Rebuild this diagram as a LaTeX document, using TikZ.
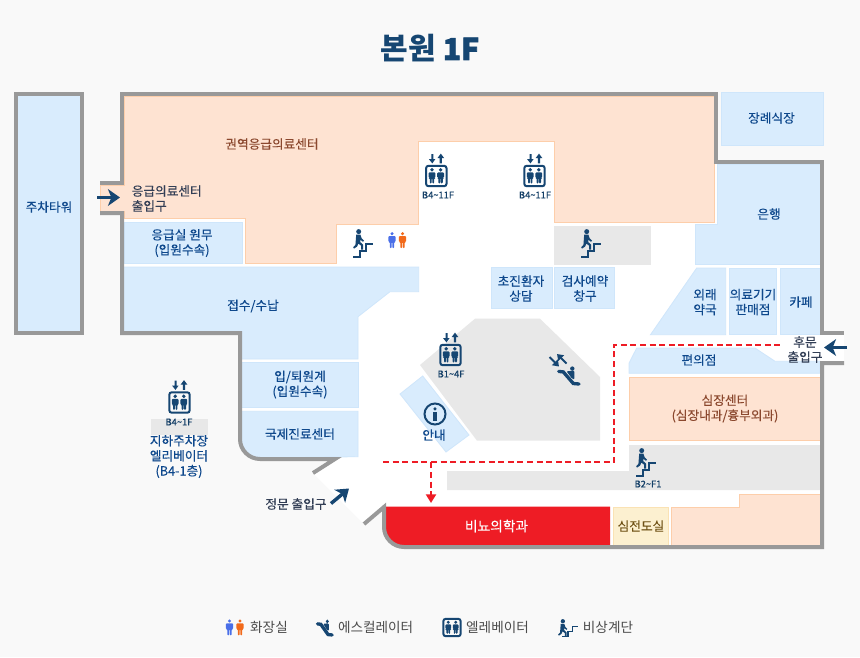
\documentclass[tikz,border=0pt]{standalone}
\usepackage{fontspec}
\setmainfont{Noto Sans CJK KR}
\newfontfamily\heavyf[FakeBold=2.2]{Noto Sans CJK KR}
\newfontfamily\medf[FakeBold=0.3]{Noto Sans CJK KR}
\newfontfamily\floorf[FakeBold=0.7]{Noto Sans CJK KR}
\usetikzlibrary{arrows.meta}
\definecolor{bgc}{RGB}{249,249,249}
\definecolor{wallc}{RGB}{153,153,153}
\definecolor{bluef}{RGB}{217,236,253}
\definecolor{blueb}{RGB}{207,230,251}
\definecolor{peachf}{RGB}{254,227,210}
\definecolor{peachb}{RGB}{253,206,170}
\definecolor{grayf}{RGB}{232,232,232}
\definecolor{navy}{RGB}{22,70,114}
\definecolor{bluetx}{RGB}{14,72,140}
\definecolor{browntx}{RGB}{139,72,46}
\definecolor{darktx}{RGB}{50,62,85}
\definecolor{legendtx}{RGB}{75,75,75}
\definecolor{redc}{RGB}{238,28,37}
\definecolor{creamf}{RGB}{252,240,208}
\definecolor{creamb}{RGB}{250,226,180}
\definecolor{creamtx}{RGB}{110,80,20}
\definecolor{wcblue}{RGB}{74,111,232}
\definecolor{wcorange}{RGB}{242,106,27}
\tikzset{
  x=0.75pt,y=-0.75pt,
  wall/.style={draw=wallc,line width=3pt,line join=miter,line cap=butt},
  tower/.style={wall,fill=bluef},
  blueroom/.style={fill=bluef,draw=blueb,line width=0.6pt},
  peachroom/.style={fill=peachf,draw=peachb,line width=0.75pt},
  grayroom/.style={fill=grayf},
  redroom/.style={fill=redc},
  creamroom/.style={fill=creamf,draw=creamb,line width=0.75pt},
  lab/.style={inner sep=0pt,align=center,font=\fontsize{9.5}{11.25}\medf\selectfont},
  bluelab/.style={lab,text=bluetx},
  brownlab/.style={lab,text=browntx},
  darklab/.style={lab,text=darktx},
  legendlab/.style={lab,text=legendtx,font=\fontsize{10.2}{12}\selectfont},
  floorlab/.style={inner sep=0pt,text=navy!90!black,font=\fontsize{7}{9}\floorf\selectfont},
  entryarrow/.style={draw=navy,line width=2.6pt,-{Stealth[length=9pt,width=12.5pt,inset=2.5pt]}},
  routeline/.style={draw=redc,line width=1.6pt,dash pattern=on 4.5pt off 2.7pt},
  routearrow/.style={routeline,-{Triangle[length=6.5pt,width=7.5pt]}},
}
\newcommand{\liftperson}[1]{%
  \fill[navy] (#1,-6.2) circle[radius=1.9];
  \fill[navy,rounded corners=0.8pt] (#1-3.4,-3.7) -- (#1+3.4,-3.7) -- (#1+3.4,2) -- (#1+2.2,2) -- (#1+2.2,7.5) -- (#1+0.3,7.5) -- (#1+0.3,2) -- (#1-0.3,2) -- (#1-0.3,7.5) -- (#1-2.2,7.5) -- (#1-2.2,2) -- (#1-3.4,2) -- cycle;
}
\newcommand{\liftcab}{%
  \draw[navy,line width=1.5pt,rounded corners=1.8pt] (-10.2,-10.2) rectangle (10.2,10.2);
  \liftperson{-4.3}\liftperson{4.3}
}
\newcommand{\liftarrows}{%
  \fill[navy] (-5,-22) rectangle (-3,-17) (-7.5,-17) -- (-0.9,-17) -- (-4,-12.6) -- cycle;
  \fill[navy] (3.4,-12.6) rectangle (5.6,-18) (1.2,-18) -- (7.8,-18) -- (4.5,-22.4) -- cycle;
}
\newcommand{\walker}{%
  \fill[navy] (5.7,2.6) circle[radius=2.5];
  \fill[navy] (3.2,5.6) -- (7.4,5.6) -- (8.6,9.2) -- (11,11.6) -- (10,12.8) -- (7.5,10.8) -- (7.2,13) -- (10,15.6) -- (10,20.6) -- (8,20.6) -- (8,16.6) -- (5.4,14.6) -- (4,17.6) -- (1,19.6) -- (0.2,18.2) -- (2.4,16) -- (2.8,11) -- cycle;
}
\newcommand{\stairicon}{%
  \walker
  \draw[navy,line width=1.5pt,line join=miter] (0,27.6) -- (7.2,27.6) -- (7.2,21.5) -- (13.3,21.5) -- (13.3,15.4) -- (20,15.4);
}
\newcommand{\esclman}{%
  \fill[navy] (15.3,1.6) circle[radius=2.2];
  \fill[navy,rounded corners=0.8pt] (9.5,4.2) -- (17.4,3.8) -- (17.4,12.5) -- (15,11.5) -- cycle;
  \draw[navy,line width=2.5pt,line cap=round,line join=miter] (1.7,4.4) -- (6.3,4.9) -- (16.3,16.5) -- (22,17);
}
\newcommand{\wcperson}[2]{%
  \fill[#1] (#2,1.7) circle[radius=1.7];
  \fill[#1,rounded corners=0.7pt] (#2-3.6,4) -- (#2+3.6,4) -- (#2+3.6,10) -- (#2+2.2,10) -- (#2+2.2,16) -- (#2+0.3,16) -- (#2+0.3,10) -- (#2-0.3,10) -- (#2-0.3,16) -- (#2-2.2,16) -- (#2-2.2,10) -- (#2-3.6,10) -- cycle;
}
\newcommand{\wcpair}{\wcperson{wcblue}{3.5}\wcperson{wcorange}{14}}
\begin{document}
\begin{tikzpicture}
\useasboundingbox (0,0) rectangle (860,657);
\fill[bgc] (0,0) rectangle (860,657);
% building floor
\fill[white] (122,94) -- (716,94) -- (716,162) -- (822,162) -- (822,333) -- (844,333) -- (844,363) -- (822,363) -- (822,547) -- (404,547) .. controls (393,547) and (384,538) .. (384,527) -- (384,507) -- (364,524) -- (313,473) -- (335,459) -- (260,459) .. controls (249,459) and (240,450) .. (240,439) -- (240,333) -- (122,333) -- (122,213) -- (100,213) -- (100,183) -- (122,183) -- cycle;
% rooms
\path[peachroom] (124,96) -- (714,96) -- (714,222.6) -- (554,222.6) -- (554,141.7) -- (418.7,141.7) -- (418.7,224.5) -- (336.5,224.5) -- (336.5,263.8) -- (245.5,263.8) -- (245.5,218.8) -- (124,218.8) -- (124,211) -- (100,211) -- (100,185) -- (124,185) -- cycle;
\path[blueroom] (124,222) rectangle (242,263.7);
\path[blueroom] (123,267) -- (418.7,267) -- (418.7,291.7) -- (390,291.7) -- (358,316.7) -- (358,359) -- (241,359) -- (241,332) -- (123,332) -- cycle;
\path[blueroom] (241,362.3) rectangle (358,407.7);
\path[blueroom] (241,411.3) -- (358,411.3) -- (358,456.7) -- (260,458) .. controls (249,458) and (241,450) .. (241,439) -- cycle;
\path[blueroom] (721,92.5) rectangle (823.5,145.7);
\path[blueroom] (717.5,164) -- (820,164) -- (820,264.7) -- (695,264.7) -- (695,224) -- (717.5,224) -- cycle;
\path[blueroom] (696.7,268) -- (725.7,268) -- (725.7,334.7) -- (650.5,334.7) -- cycle;
\path[blueroom] (729.3,268) rectangle (776.7,334.7);
\path[blueroom] (780.3,268) rectangle (820,334.7);
\path[blueroom] (491.3,267) rectangle (552,308.7);
\path[blueroom] (554.3,267) rectangle (614.7,308.7);
\path[blueroom] (629,373.3) -- (629,363.3) -- (636.7,348) -- (755,348) -- (775,361.3) -- (820,361.3) -- (820,373.3) -- cycle;
\path[grayroom] (554,226) rectangle (650.7,264.7);
\path[grayroom] (475,318.7) -- (540,318.7) -- (600,377) -- (600,440.7) -- (477,440.7) -- (420,365) -- cycle;
\path[blueroom] (422.7,376) -- (469,435) -- (446,452) -- (400,394) -- cycle;
\path[peachroom] (629.3,377.5) rectangle (820,440.7);
\path[grayroom] (629,445) -- (820,445) -- (820,490) -- (447,490) -- (447,471) -- (629,471) -- cycle;
\path[redroom] (385,506.7) -- (610,506.7) -- (610,546) -- (404,546) .. controls (393,546) and (385,538) .. (385,527) -- cycle;
\path[creamroom] (613.5,507) rectangle (668,545.5);
\path[peachroom] (671.5,507) -- (739,507) -- (739,494) -- (820,494) -- (820,545.5) -- (671.5,545.5) -- cycle;
% walls
\path[tower] (16,94) rectangle (82,333);
\path[wall] (100,183) -- (122,183) -- (122,94) -- (716,94) -- (716,162) -- (822,162) -- (822,333) -- (844,333);
\path[wall] (844,363) -- (822,363) -- (822,547) -- (404,547) .. controls (393,547) and (384,538) .. (384,527) -- (384,507) -- (364,524);
\path[wall] (100,213) -- (122,213) -- (122,333) -- (240,333) -- (240,439) .. controls (240,450) and (249,459) .. (260,459) -- (335,459) -- (313,473);
% route
\coordinate (routeA) at (383,462.4);
\coordinate (routeB) at (614,462.4);
\coordinate (routeC) at (614,345);
\coordinate (routeD) at (783,345);
\coordinate (routeJ) at (431,462.4);
\coordinate (routeEnd) at (431,503);
\path[routeline] (routeA) -- (routeB) -- (routeC) -- (routeD);
\path[routearrow] (routeJ) -- (routeEnd);
% entry arrows
\coordinate (erFrom) at (97,197.5);
\coordinate (erTo) at (120,197.5);
\coordinate (rearFrom) at (847,347.5);
\coordinate (rearTo) at (824,347.5);
\coordinate (mainFrom) at (331,503.5);
\coordinate (mainTo) at (349,488.5);
\path[entryarrow] (erFrom) -- (erTo);
\path[entryarrow] (rearFrom) -- (rearTo);
\path[entryarrow] (mainFrom) -- (mainTo);
% gray band behind parking label
\path[grayroom] (151,419) rectangle (208,435);
% lifts
\begin{scope}[shift={(436.3,176)}]\liftcab\liftarrows\end{scope}
\begin{scope}[shift={(534.5,176)}]\liftcab\liftarrows\end{scope}
\begin{scope}[shift={(450.5,355)}]\liftcab\liftarrows\end{scope}
\begin{scope}[shift={(179.5,402.5)}]\liftcab\liftarrows\end{scope}
\begin{scope}[shift={(452,627.5)},scale=0.85]\liftcab\end{scope}
% stairs
\begin{scope}[shift={(353,229)}]\stairicon\end{scope}
\begin{scope}[shift={(581,229)}]\stairicon\end{scope}
\begin{scope}[shift={(636,448)}]\stairicon\end{scope}
\begin{scope}[shift={(558,619)}]
  \begin{scope}[scale=0.85]\walker\end{scope}
  \draw[navy,line width=1.1pt] (4,17.5) -- (10,17.5) -- (10,12.5) -- (14.5,12.5) -- (14.5,7.5) -- (20,7.5);
\end{scope}
% toilets
\begin{scope}[shift={(388.5,232)}]\wcpair\end{scope}
\begin{scope}[shift={(226,619.3)}]\wcpair\end{scope}
% escalators
\begin{scope}[shift={(557,367)}]\esclman\end{scope}
\draw[navy,line width=1.4pt,-{Triangle[length=4.5pt,width=6pt]}] (549.5,357) -- (559,366.5);
\draw[navy,line width=1.4pt,-{Triangle[length=4.5pt,width=6pt]}] (566.5,363.5) -- (557,354);
\begin{scope}[shift={(316.3,620)},xscale=0.72,yscale=0.88]\esclman\end{scope}
% info
\draw[navy,line width=1.5pt] (435,414) circle[radius=10.5];
\fill[navy] (435,408.8) circle[radius=1.7];
\fill[navy] (433.4,412) rectangle (436.6,420.5);
% labels
\node[bluelab] (parkingtower) at (49,207) {주차타워};
\node[brownlab] (emergencycenter) at (272,144) {권역응급의료센터};
\node[darklab,anchor=west,align=left] (erentrance) at (131.5,198.5) {응급의료센터\\출입구};
\node[bluelab] (erdesk) at (182,243) {응급실 원무\\(입원수속)};
\node[bluelab] (reception) at (253,306) {접수/수납};
\node[bluelab] (admission) at (300,384.5) {입/퇴원계\\(입원수속)};
\node[bluelab] (intlcenter) at (300,434) {국제진료센터};
\node[bluelab] (firstvisit) at (521,288.5) {초진환자\\상담};
\node[bluelab] (booking) at (585,288.5) {검사예약\\창구};
\node[bluelab] (funeral) at (771.5,118) {장례식장};
\node[bluelab] (bank) at (769,214) {은행};
\node[bluelab] (pharmacy) at (705,302) {외래\\약국};
\node[bluelab] (devices) at (753,302) {의료기기\\판매점};
\node[bluelab] (cafe) at (801,302) {카페};
\node[darklab] (reardoor) at (805,349.5) {후문\\출입구};
\node[bluelab] (store) at (699,360) {편의점};
\node[brownlab] (heart) at (725,408.5) {심장센터\\(심장내과/흉부외과)};
\node[lab,text=creamtx] (ecg) at (641,526) {심전도실};
\node[lab,text=white,font=\fontsize{10.3}{12}\medf\selectfont] (urology) at (496.5,526) {비뇨의학과};
\node[bluelab] (info) at (434,435) {안내};
\node[darklab] (maindoor) at (296,504) {정문 출입구};
\node[bluelab] (parkinglift) at (179,456.5) {지하주차장\\엘리베이터\\(B4-1층)};
\node[floorlab] (floorA) at (438,195) {B4\textasciitilde 11F};
\node[floorlab] (floorB) at (535,195) {B4\textasciitilde 11F};
\node[floorlab] (floorC) at (451,374) {B1\textasciitilde 4F};
\node[floorlab] (floorD) at (179,422) {B4\textasciitilde 1F};
\node[floorlab] (floorE) at (648,484) {B2\textasciitilde F1};
\node[legendlab] (legwc) at (269,627) {화장실};
\node[legendlab] (legesc) at (375.7,627) {에스컬레이터};
\node[legendlab] (leglift) at (497.5,627) {엘레베이터};
\node[legendlab] (legstair) at (608,627) {비상계단};
\node[inner sep=0pt,text=navy,font=\fontsize{22.5}{26}\bfseries\selectfont] (title) at (430,48.5) {본원 {\heavyf 1F}};
\end{tikzpicture}
\end{document}
